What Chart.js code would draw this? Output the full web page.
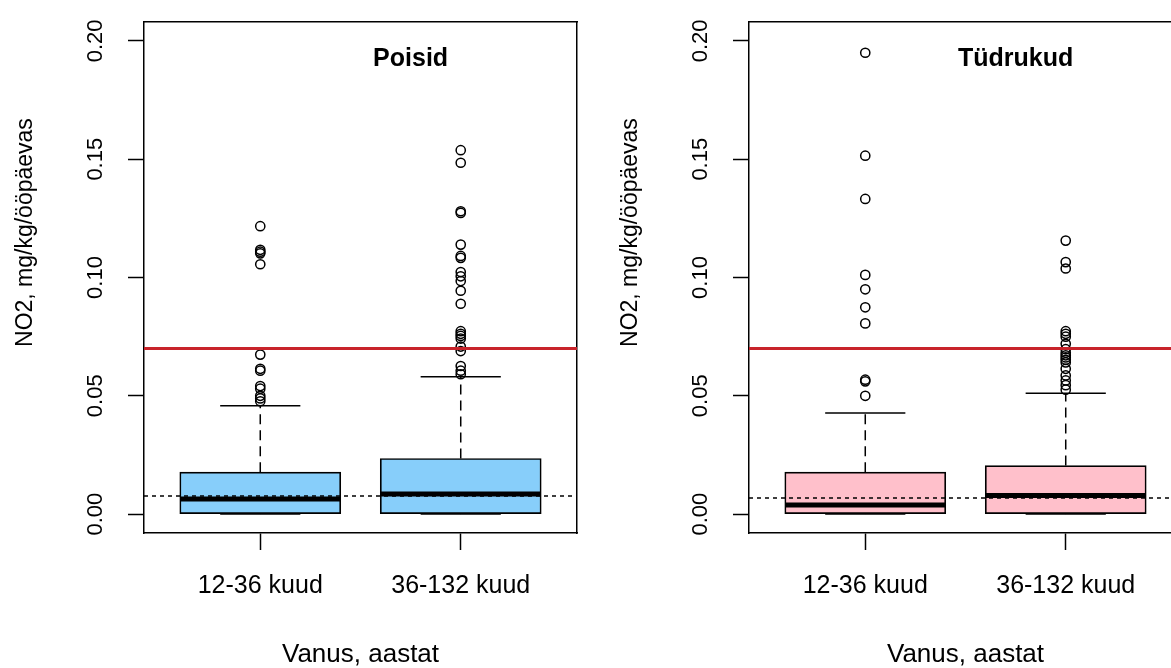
<!DOCTYPE html>
<html>
<head>
<meta charset="utf-8">
<script src="https://cdn.jsdelivr.net/npm/chart.js@4.4.1/dist/chart.umd.min.js"></script>
<style>
  html, body { margin: 0; padding: 0; background: #fff; }
  body { width: 1171px; height: 668px; overflow: hidden; position: relative; }
  canvas { position: absolute; top: 0; }
  #boys { left: 0; }
  #girls { left: 605px; }
</style>
</head>
<body>
<canvas id="boys" width="600" height="668"></canvas>
<canvas id="girls" width="600" height="668"></canvas>
<script>
// categories and axis ticks
const groups = ['12-36 kuud', '36-132 kuud'];
const yTicks = [0, 0.05, 0.10, 0.15, 0.20];
const limitValue = 0.07;

// Poisid (boys) box statistics
const boysMin = [0, 0];
const boysQ1 = [0, 0];
const boysMedian = [0.0064, 0.0085];
const boysQ3 = [0.0177, 0.0235];
const boysMax = [0.0458, 0.058];
const boysOut12 = [0.0477, 0.0489, 0.0500, 0.0530, 0.0541, 0.0606, 0.0614, 0.0674, 0.1056, 0.1102, 0.1109, 0.1117, 0.1217];
const boysOut36 = [0.0591, 0.0606, 0.0626, 0.0689, 0.0708, 0.0742, 0.0753, 0.0762, 0.0773, 0.0889, 0.0944, 0.0985, 0.1005, 0.1023, 0.1083, 0.1091, 0.1139, 0.1273, 0.1280, 0.1485, 0.1538];
const boysRef = 0.0076;

// Tüdrukud (girls) box statistics
const girlsMin = [0, 0];
const girlsQ1 = [0, 0];
const girlsMedian = [0.0038, 0.0079];
const girlsQ3 = [0.0177, 0.0205];
const girlsMax = [0.0427, 0.0511];
const girlsOut12 = [0.0500, 0.0561, 0.0568, 0.0806, 0.0874, 0.0950, 0.1011, 0.1332, 0.1515, 0.1950];
const girlsOut36 = [0.0526, 0.0545, 0.0565, 0.0586, 0.0614, 0.0641, 0.0652, 0.0662, 0.0671, 0.0682, 0.0697, 0.0720, 0.0750, 0.0762, 0.0773, 0.1038, 0.1065, 0.1156];
const girlsRef = 0.0068;

const fontFamily = '"Liberation Sans", Arial, Helvetica, sans-serif';
const yTitle = 'NO2, mg/kg/ööpäevas';
const xTitle = 'Vanus, aastat';
// R pads the axis ranges by 4%
const xMin = 0.42, xMax = 2.58;
const yMin = -0.008, yMax = 0.208;
const titleAt = [1.75, 0.1925];
const yTitleAt = 0.119;

function seg(points, width, dash, order, color) {
  return {
    type: 'line',
    data: points.map(p => ({x: p[0], y: p[1]})),
    borderColor: color || '#000',
    borderWidth: width,
    borderDash: dash || [],
    borderCapStyle: 'butt',
    pointRadius: 0,
    fill: false,
    tension: 0,
    order: order
  };
}

const panelText = {
  id: 'panelText',
  afterDraw(chart, args, opts) {
    const {ctx, scales} = chart;
    ctx.save();
    ctx.fillStyle = '#000';
    ctx.textAlign = 'center';
    ctx.textBaseline = 'middle';
    ctx.font = 'bold 25px ' + fontFamily;
    ctx.fillText(opts.title, scales.x.getPixelForValue(titleAt[0]), scales.y.getPixelForValue(titleAt[1]));
    ctx.font = '23px ' + fontFamily;
    ctx.translate(26, scales.y.getPixelForValue(yTitleAt));
    ctx.rotate(-Math.PI / 2);
    ctx.fillText(yTitle, 0, 0);
    ctx.restore();
  }
};

function makePanel(id, title, fill, lo, q1, med, q3, hi, outliers, refValue) {
  const datasets = [{
    type: 'bar',
    data: groups.map((g, i) => ({x: i + 1, y: [q1[i], q3[i]]})),
    backgroundColor: fill,
    borderColor: '#000',
    borderWidth: 1.7,
    borderSkipped: false,
    barThickness: 161,
    order: 10
  }];

  groups.forEach((g, i) => {
    const c = i + 1;
    datasets.push(seg([[c, q3[i]], [c, hi[i]]], 1.5, [10, 6], 9));
    datasets.push(seg([[c, q1[i]], [c, lo[i]]], 1.5, [10, 6], 9));
    datasets.push(seg([[c - 0.2, hi[i]], [c + 0.2, hi[i]]], 1.5, null, 9));
    datasets.push(seg([[c - 0.2, lo[i]], [c + 0.2, lo[i]]], 1.5, null, 9));
    datasets.push(seg([[c - 0.4, med[i]], [c + 0.4, med[i]]], 5, null, 8));
  });

  datasets.push({
    type: 'scatter',
    data: outliers.flatMap((vals, i) => vals.map(v => ({x: i + 1, y: v}))),
    pointStyle: 'circle',
    pointRadius: 4.6,
    pointBorderWidth: 1.5,
    pointBorderColor: '#000',
    pointBackgroundColor: 'rgba(0,0,0,0)',
    showLine: false,
    order: 7
  });

  datasets.push(seg([[xMin, limitValue], [xMax, limitValue]], 3, null, 2, '#C8232A'));
  datasets.push(seg([[xMin, refValue], [xMax, refValue]], 1.5, [4, 4], 1));

  const frame = { display: true, color: '#000', width: 1.5 };

  new Chart(document.getElementById(id), {
    type: 'bar',
    data: { datasets: datasets },
    plugins: [panelText],
    options: {
      responsive: false,
      animation: false,
      devicePixelRatio: 1,
      layout: { padding: { top: 22, right: 23, bottom: 0, left: 0 } },
      plugins: {
        legend: { display: false },
        tooltip: { enabled: false },
        panelText: { title: title }
      },
      scales: {
        x: {
          type: 'linear', min: xMin, max: xMax, offset: false,
          afterBuildTicks: s => { s.ticks = groups.map((g, i) => ({value: i + 1})); },
          afterFit: s => { s.height = 135; s.paddingLeft = 0; s.paddingRight = 0; },
          ticks: {
            autoSkip: false, minRotation: 0, maxRotation: 0, padding: 21, color: '#000',
            font: { family: fontFamily, size: 25, lineHeight: 1.2 },
            callback: (v, i) => groups[i]
          },
          grid: { offset: false, drawOnChartArea: false, drawTicks: true, tickLength: 17, tickWidth: 1.5, tickColor: '#000' },
          border: frame,
          title: { display: true, text: xTitle, color: '#000', padding: 0,
                   font: { family: fontFamily, size: 26, lineHeight: 1 } }
        },
        y: {
          type: 'linear', min: yMin, max: yMax,
          afterBuildTicks: s => { s.ticks = yTicks.map(v => ({value: v})); },
          afterFit: s => { s.width = 144; s.paddingTop = 0; s.paddingBottom = 0; },
          ticks: {
            minRotation: 90, maxRotation: 90, crossAlign: 'center', padding: 11, color: '#000',
            font: { family: fontFamily, size: 22 },
            callback: v => v.toFixed(2)
          },
          grid: { offset: false, drawOnChartArea: false, drawTicks: true, tickLength: 16, tickWidth: 1.5, tickColor: '#000' },
          border: frame
        },
        xTop: {
          type: 'linear', position: 'top',
          ticks: { display: false }, grid: { display: false }, border: frame,
          afterFit: s => { s.height = 0; }
        },
        yRight: {
          type: 'linear', position: 'right',
          ticks: { display: false }, grid: { display: false }, border: frame,
          afterFit: s => { s.width = 0; }
        }
      }
    }
  });
}

makePanel('boys', 'Poisid', '#87CEFA', boysMin, boysQ1, boysMedian, boysQ3, boysMax, [boysOut12, boysOut36], boysRef);
makePanel('girls', 'Tüdrukud', '#FFC0CB', girlsMin, girlsQ1, girlsMedian, girlsQ3, girlsMax, [girlsOut12, girlsOut36], girlsRef);
</script>
</body>
</html>
